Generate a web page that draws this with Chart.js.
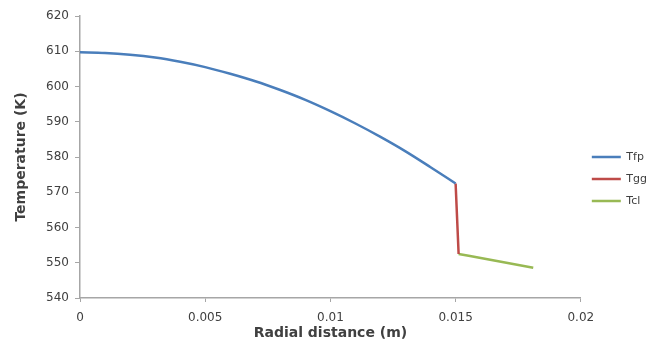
<!DOCTYPE html>
<html>
<head>
<meta charset="utf-8">
<script src="https://cdn.jsdelivr.net/npm/chart.js@4.4.0/dist/chart.umd.min.js"></script>
<style>
  html, body { margin: 0; padding: 0; background: #ffffff; }
  #wrap { width: 654px; height: 342px; }
</style>
</head>
<body>
<div id="wrap"><canvas id="c" width="654" height="342"></canvas></div>
<script>
// Tfp: fuel pellet temperature
const tfpR = [0, 0.001, 0.002, 0.003, 0.004, 0.005, 0.006, 0.007, 0.008, 0.009, 0.010, 0.011, 0.012, 0.013, 0.014, 0.015];
const tfpT = [609.7, 609.5, 609.0, 608.2, 607.0, 605.5, 603.6, 601.5, 599.0, 596.2, 593.0, 589.5, 585.7, 581.6, 577.1, 572.5];
// Tgg: gas gap temperature
const tggR = [0.0150, 0.01512];
const tggT = [572.5, 552.5];
// Tcl: cladding temperature
const tclR = [0.01512, 0.0181];
const tclT = [552.5, 548.6];

const xTickLabels = ["0", "0.005", "0.01", "0.015", "0.02"];
const yTickLabels = ["540", "550", "560", "570", "580", "590", "600", "610", "620"];
const seriesNames = ["Tfp", "Tgg", "Tcl"];

const toPts = (xs, ys) => xs.map((x, i) => ({ x: x, y: ys[i] }));

const colors = ["#4a7ebb", "#be4b48", "#98b954"];
const txt = "#404040";
const axisCol = "#a6a6a6";

const mk = (i, xs, ys) => ({
  label: seriesNames[i],
  data: toPts(xs, ys),
  showLine: true,
  borderColor: colors[i],
  backgroundColor: colors[i],
  borderWidth: 2.5,
  pointRadius: 0,
  pointHoverRadius: 0,
  cubicInterpolationMode: "monotone",
  fill: false
});

const PAD_L = 13, PAD_B = 0;

new Chart(document.getElementById("c"), {
  type: "scatter",
  data: {
    datasets: [mk(0, tfpR, tfpT), mk(1, tggR, tggT), mk(2, tclR, tclT)]
  },
  options: {
    responsive: false,
    animation: false,
    devicePixelRatio: 1,
    layout: { padding: { top: 16, left: PAD_L, right: -3, bottom: PAD_B } },
    plugins: {
      tooltip: { enabled: false },
      legend: {
        position: "right",
        align: "center",
        labels: {
          usePointStyle: true,
          pointStyle: "line",
          pointStyleWidth: 29,
          boxHeight: 11,
          padding: 11,
          color: txt,
          font: { family: "DejaVu Sans", size: 11 }
        }
      }
    },
    scales: {
      x: {
        type: "linear",
        min: 0,
        max: 0.02,
        afterFit: (s) => { s.height = 342 - 298 - PAD_B; },
        ticks: {
          stepSize: 0.005,
          color: txt,
          font: { family: "DejaVu Sans", size: 12 },
          padding: 9,
          maxRotation: 0,
          callback: (v) => {
            const i = Math.round(v / 0.005);
            return xTickLabels[i] !== undefined ? xTickLabels[i] : "";
          }
        },
        grid: { drawOnChartArea: false, color: axisCol, tickLength: 4, lineWidth: 1 },
        border: { color: axisCol, width: 1.5 },
        title: {
          display: true,
          text: "Radial distance (m)",
          color: txt,
          font: { family: "DejaVu Sans", size: 14, weight: "bold" },
          padding: { top: 2, bottom: 0 }
        }
      },
      y: {
        min: 540,
        max: 620,
        afterFit: (s) => { s.width = 80 - PAD_L; },
        ticks: {
          stepSize: 10,
          color: txt,
          font: { family: "DejaVu Sans", size: 12 },
          padding: 6,
          callback: (v) => {
            const i = Math.round((v - 540) / 10);
            return yTickLabels[i] !== undefined ? yTickLabels[i] : "";
          }
        },
        grid: { drawOnChartArea: false, color: axisCol, tickLength: 5, lineWidth: 1 },
        border: { color: axisCol, width: 1.5 },
        title: {
          display: true,
          text: "Temperature (K)",
          color: txt,
          font: { family: "DejaVu Sans", size: 14, weight: "bold" },
          padding: { top: 0, bottom: 14 }
        }
      }
    }
  }
});
</script>
</body>
</html>
